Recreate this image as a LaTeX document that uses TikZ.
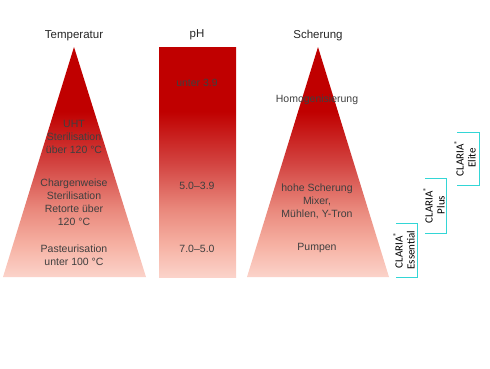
\documentclass[tikz,border=0pt]{standalone}
\usepackage{fontspec}
\setmainfont{Liberation Sans}
\newfontfamily\clariafont{Carlito}
\usepackage{tikz}

\definecolor{deepred}{HTML}{C00000}
\definecolor{redA}{HTML}{D2423F}
\definecolor{redB}{HTML}{E9877B}
\definecolor{redC}{HTML}{F6B1A3}
\definecolor{palepink}{HTML}{FBD3CA}
\definecolor{titlegrey}{HTML}{262626}
\definecolor{labelgrey}{HTML}{3F3F3F}
\definecolor{claricyan}{HTML}{33D6D6}

\pgfdeclareverticalshading{heatfade}{100bp}{color(0bp)=(palepink); color(25bp)=(palepink); color(32bp)=(redC); color(40bp)=(redB); color(50bp)=(redA); color(61bp)=(deepred); color(100bp)=(deepred)}

\begin{document}
\begin{tikzpicture}[x=1pt,y=-1pt,
    ttl/.style={text=titlegrey,font=\fontsize{11.5}{13}\selectfont},
    lbl/.style={text=labelgrey,font=\fontsize{10.5}{13}\selectfont,align=center},
    clar/.style={rotate=90,text=black,font=\clariafont\fontsize{11}{12}\selectfont,align=center,inner sep=0pt},
    brk/.style={draw=claricyan,line width=1.2pt}]
        \useasboundingbox (0,0) rectangle (490,368);
        % the three scales
        \shade[shading=heatfade] (74,47) -- (146,277) -- (3,277) -- cycle;
        \shade[shading=heatfade] (159,47) rectangle (236,277);
        \shade[shading=heatfade] (318,47) -- (389,277) -- (247,277) -- cycle;
        % titles
        \node[ttl] (temptitle) at (74,36) {Temperatur};
        \node[ttl] (phtitle) at (197,35) {pH};
        \node[ttl] (sheartitle) at (318,36) {Scherung};
        % temperatur
        \node[lbl] (uht) at (74,137) {UHT\\Sterilisation\\über 120 °C};
        \node[lbl] (batch) at (74,202.5) {Chargenweise\\Sterilisation\\Retorte über\\120 °C};
        \node[lbl] (pasteur) at (74,255) {Pasteurisation\\unter 100 °C};
        % pH
        \node[lbl] (phlow) at (197,83) {unter 3.9};
        \node[lbl] (phmid) at (197,186) {5.0--3.9};
        \node[lbl] (phhigh) at (197,249) {7.0--5.0};
        % scherung
        \node[lbl] (homog) at (317,100) {Homogenisierung};
        \node[lbl] (highshear) at (317,201) {hohe Scherung\\Mixer,\\Mühlen, Y-Tron};
        \node[lbl] (pump) at (317,248) {Pumpen};
        % claria brackets
        \draw[brk] (396,223.5) -- (417.5,223.5) -- (417.5,277.5) -- (396,277.5);
        \draw[brk] (425,178.5) -- (446.5,178.5) -- (446.5,233.5) -- (425,233.5);
        \draw[brk] (457,132.5) -- (479.5,132.5) -- (479.5,185.5) -- (457,185.5);
        \node[clar] (essential) at (404,250) {CLARIA\textsuperscript{®}\\Essential};
        \node[clar] (plus) at (434,205) {CLARIA\textsuperscript{®}\\Plus};
        \node[clar] (elite) at (465,158) {CLARIA\textsuperscript{®}\\Elite};
\end{tikzpicture}
\end{document}
